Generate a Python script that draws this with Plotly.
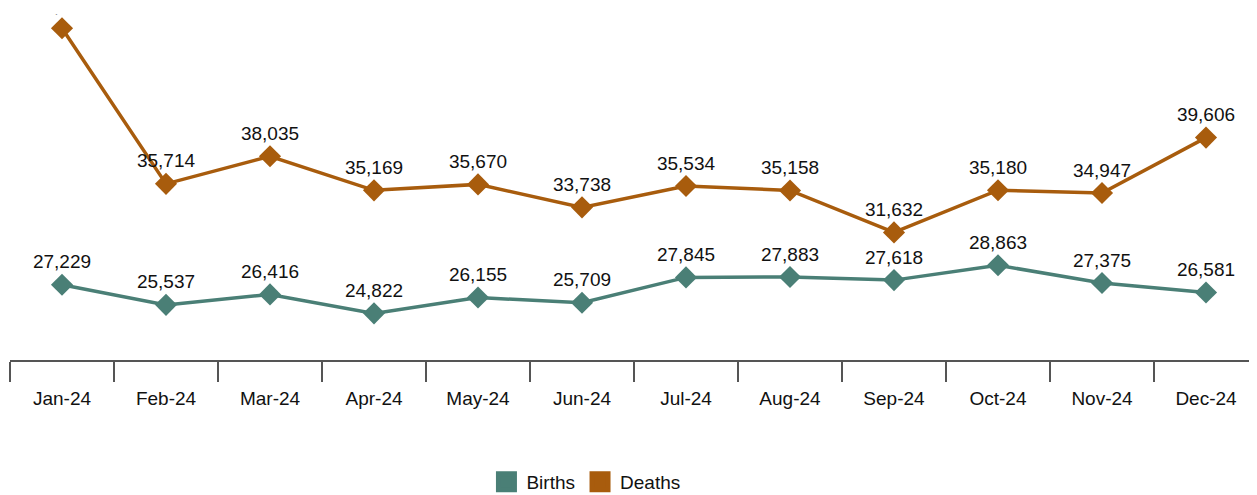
import plotly.graph_objects as go

months = ["Jan-24", "Feb-24", "Mar-24", "Apr-24", "May-24", "Jun-24",
          "Jul-24", "Aug-24", "Sep-24", "Oct-24", "Nov-24", "Dec-24"]
births = [27229, 25537, 26416, 24822, 26155, 25709, 27845, 27883, 27618, 28863, 27375, 26581]
deaths = [48800, 35714, 38035, 35169, 35670, 33738, 35534, 35158, 31632, 35180, 34947, 39606]

c_births = "#4a7f76"
c_deaths = "#a85c0d"
font = "Liberation Sans, Arial, sans-serif"

fig = go.Figure()
for name, vals, col in [("Births", births, c_births), ("Deaths", deaths, c_deaths)]:
    fig.add_trace(go.Scatter(
        x=months, y=vals, mode="lines+markers+text", name=name,
        text=[f"{v:,}" for v in vals], textposition="top center",
        textfont=dict(family=font, size=19, color="#111111"),
        line=dict(color=col, width=3.5),
        marker=dict(symbol="diamond", size=17, color=col),
        showlegend=False, cliponaxis=True,
    ))
    fig.add_trace(go.Scatter(
        x=[None], y=[None], mode="markers", name=name,
        marker=dict(symbol="square", size=16, color=col, line=dict(color=col, width=5)),
        showlegend=True,
    ))

fig.update_layout(
    width=1257, height=495,
    margin=dict(l=2, r=7, t=6, b=131),
    paper_bgcolor="white", plot_bgcolor="white",
    font=dict(family=font, size=19, color="#111111"),
    showlegend=True,
    legend=dict(orientation="h", x=0.4615, xanchor="center", y=-0.352, yanchor="middle",
                font=dict(family=font, size=19, color="#111111"),
                itemwidth=30, tracegroupgap=0),
    xaxis=dict(
        type="category", showgrid=False, showline=True, linecolor="#555555", linewidth=2,
        ticks="outside", tickson="boundaries", ticklen=20, tickwidth=2, tickcolor="#555555",
        tickfont=dict(family=font, size=19, color="#111111"), range=[-0.5, 11.5],
        ticklabelstandoff=20, automargin=False,
    ),
    yaxis=dict(visible=False, range=[20900, 50000], showgrid=False, zeroline=False),
)

fig.write_html("out.html")
